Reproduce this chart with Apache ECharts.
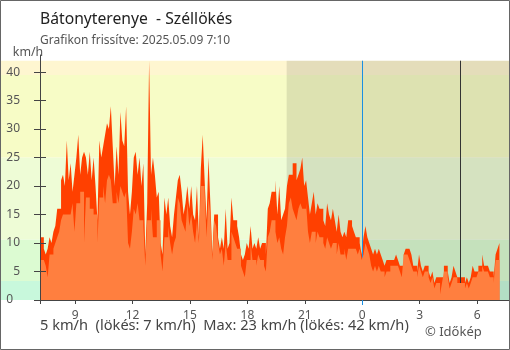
<!DOCTYPE html>
<html><head><meta charset="utf-8">
<script src="https://cdn.jsdelivr.net/npm/echarts@6/dist/echarts.min.js"></script>
<style>html,body{margin:0;padding:0;background:#fff}#c{width:510px;height:350px}</style>
</head><body><div id="c"></div>
<script>
// ---- data ----
const titleText = 'Bátonyterenye  - Széllökés';
const subtitleText = 'Grafikon frissítve: 2025.05.09 7:10';
const unitText = 'km/h';
const footerText = '5 km/h  (lökés: 7 km/h)  Max: 23 km/h (lökés: 42 km/h)';
const creditText = '© Időkép';

const firstSampleHour = 7 + 10 / 60;   // 7:10 previous day
const sampleStepHours = 0.1;           // 6 minutes
const axisMinHour = 7 + 10 / 60;
const axisMaxHour = 31 + 40 / 60;
const midnightHour = 24;
const sunsetHour = 20.05;
const sunriseHour = 29.12;

const xTickHours = [9, 12, 15, 18, 21, 24, 27, 30];
const yTickValues = [0, 5, 10, 15, 20, 25, 30, 35, 40];
const bandLimits = [0, 3.33, 10.6, 25, 39.5, 42];
const bandColors = ['#c8f8dc', '#dcfbd2', '#eefcd6', '#f7fcc6', '#fef6d0'];

const avgValues = [
  7,7,7,6,4,8,8,9,10,11,
  12,14,15,15,15,15,15,17,12,17,
  17,19,19,10,18,18,16,16,15,15,
  10,18,18,20,17,21,22,21,17,17,
  19,17,20,19,18,19,10,9,12,16,
  15,17,14,14,13,6,14,14,16,11,
  11,14,14,8,5,11,11,13,10,8,
  10,11,18,17,14,13,12,17,13,15,
  12,10,14,10,20,20,19,11,18,15,
  7,14,13,10,8,9,6,10,7,7,
  12,11,10,9,9,6,5,4,7,7,
  10,7,7,6,8,7,7,6,5,11,
  12,14,14,12,10,11,9,8,11,13,
  17,18,16,15,14,16,17,16,16,17,
  12,10,12,12,10,12,11,11,10,9,
  11,10,9,10,10,8,10,8,8,9,
  7,9,9,9,9,9,8,9,7,8,
  10,9,8,6,5,6,5,6,5,5,
  4,5,5,6,6,6,6,6,5,4,
  8,8,8,7,6,5,5,4,6,5,
  4,5,5,4,3,4,2,3,3,1,
  3,5,5,4,2,3,4,4,3,3,
  3,3,2,3,2,3,4,4,4,5,
  5,6,5,5,5,4,4,3,7,7,8
];
const gustValues = [
  11,11,9,8,9,11,10,12,13,16,
  16,21,22,20,28,21,24,19,22,25,
  29,22,25,26,25,22,26,21,25,20,
  14,28,25,27,29,31,30,34,27,20,
  27,22,33,28,27,34,19,15,19,25,
  26,22,25,20,24,8,17,42,22,25,
  22,18,19,10,8,18,15,18,13,11,
  15,18,21,22,19,15,17,20,16,20,
  15,14,20,11,23,29,21,14,25,17,
  8,15,15,11,9,11,9,16,9,10,
  18,14,14,13,11,8,7,8,10,9,
  13,9,10,9,11,9,10,10,8,16,
  17,19,19,21,15,20,14,15,16,20,
  22,22,24,24,21,22,23,25,20,21,
  18,15,17,19,15,17,16,16,14,13,
  17,15,14,16,14,12,15,12,11,12,
  11,14,14,13,12,11,11,10,8,11,
  13,11,10,9,8,9,8,9,8,7,
  6,7,7,7,7,7,8,7,6,6,
  8,9,9,9,8,6,6,5,8,6,
  5,6,6,5,4,5,3,4,4,4,
  4,6,6,5,3,4,6,5,4,4,
  4,4,3,4,3,4,6,5,5,6,
  6,8,6,6,6,5,5,4,8,9,10
];

// ---- build ----
const FONT = '"Noto Sans", "Open Sans", sans-serif';
const toPairs = arr => arr.map((v, i) => [firstSampleHour + i * sampleStepHours, v]);
const bandAreas = bandColors.map((c, i) => [
  { yAxis: bandLimits[i], itemStyle: { color: c } },
  { yAxis: bandLimits[i + 1] }
]);
const bandTop = bandLimits[bandLimits.length - 1];
const Y_MAX = 43;

const chart = echarts.init(document.getElementById('c'), null, { renderer: 'canvas' });
chart.setOption({
  animation: false,
  backgroundColor: '#ffffff',
  grid: [
    { left: 40, right: 1, top: 55, bottom: 50 },
    { left: 1, right: 1, top: 55, bottom: 50 }
  ],
  xAxis: [
    {
      type: 'value', gridIndex: 0, min: axisMinHour, max: axisMaxHour, z: 10,
      axisLine: { show: true, lineStyle: { color: '#444', width: 1 } },
      axisTick: { show: true, length: 4, lineStyle: { color: '#444' }, customValues: [axisMinHour].concat(xTickHours) },
      axisLabel: { show: true, margin: 10, color: '#555', fontSize: 12, fontFamily: FONT,
        customValues: xTickHours, formatter: v => String(Math.round(v) % 24) },
      splitLine: { show: false }
    },
    {
      type: 'value', gridIndex: 0, min: axisMinHour, max: axisMaxHour, position: 'bottom', z: 11,
      axisLine: { show: false },
      axisTick: { show: true, length: 5, lineStyle: { color: '#1a8fe3' }, customValues: [midnightHour] },
      axisLabel: { show: false }, splitLine: { show: false }
    },
    { type: 'value', gridIndex: 1, min: 0, max: 1, show: false }
  ],
  yAxis: [
    {
      type: 'value', gridIndex: 0, min: 0, max: Y_MAX, z: 10,
      axisLine: { show: true, lineStyle: { color: '#444', width: 1 } },
      axisTick: { show: true, length: 6, lineStyle: { color: '#444' }, customValues: yTickValues },
      axisLabel: { show: true, margin: 20, color: '#555', fontSize: 12, fontFamily: FONT, customValues: yTickValues,
        formatter: v => (v === 0 ? '{z|0}' : String(v)),
        rich: { z: { color: '#555', fontSize: 12, fontFamily: FONT, padding: [0, 7, 0, 0] } } },
      splitLine: { show: false }
    },
    {
      type: 'value', gridIndex: 0, min: 0, max: Y_MAX, position: 'left', z: 10,
      axisLine: { show: false },
      axisTick: { show: true, inside: true, length: 6, lineStyle: { color: '#444' }, customValues: yTickValues },
      axisLabel: { show: false }, splitLine: { show: false }
    },
    { type: 'value', gridIndex: 1, min: 0, max: Y_MAX, show: false }
  ],
  series: [
    {
      name: 'bands', type: 'line', xAxisIndex: 2, yAxisIndex: 2, z: 0, silent: true,
      data: [[0, -1], [1, -1]], symbol: 'none', lineStyle: { width: 0, opacity: 0 },
      markArea: { silent: true, z: 0, data: bandAreas }
    },
    {
      name: 'lökés', type: 'line', xAxisIndex: 0, yAxisIndex: 0, z: 2, step: 'end',
      data: toPairs(gustValues), symbol: 'none', silent: true,
      lineStyle: { width: 0 }, areaStyle: { color: '#ff4000', opacity: 1 },
      markArea: { silent: true, z: 1, itemStyle: { color: 'rgba(0,0,0,0.1)' },
        data: [[{ xAxis: sunsetHour, yAxis: 0 }, { xAxis: axisMaxHour, yAxis: bandTop }]] },
      markLine: { silent: true, z: 3, symbol: ['none', 'none'], label: { show: false },
        data: [
          [{ xAxis: midnightHour, yAxis: 0, lineStyle: { color: '#1a8fe3', width: 1, type: 'solid' } }, { xAxis: midnightHour, yAxis: bandTop }],
          [{ xAxis: sunriseHour, yAxis: 0, lineStyle: { color: '#333', width: 1, type: 'solid' } }, { xAxis: sunriseHour, yAxis: bandTop }]
        ] }
    },
    {
      name: 'szél', type: 'line', xAxisIndex: 0, yAxisIndex: 0, z: 4, step: 'end',
      data: toPairs(avgValues), symbol: 'none', silent: true,
      lineStyle: { width: 0 }, areaStyle: { color: '#ff7f3f', opacity: 1 }
    }
  ],
  graphic: [
    { type: 'rect', z: 100, shape: { x: 0.5, y: 0.5, width: 509, height: 349 },
      style: { fill: 'none', stroke: '#666', lineWidth: 1 } },
    { type: 'text', x: 40, y: 19.5, z: 100,
      style: { text: titleText, font: '15.7px ' + FONT, fill: '#222', verticalAlign: 'middle', textVerticalAlign: 'middle' } },
    { type: 'text', x: 40, y: 41, z: 100,
      style: { text: subtitleText, font: '12px ' + FONT, fill: '#555', verticalAlign: 'middle', textVerticalAlign: 'middle' } },
    { type: 'text', x: 28, y: 52, z: 100,
      style: { text: unitText, font: '12.4px ' + FONT, fill: '#555', align: 'center', textAlign: 'center', verticalAlign: 'middle', textVerticalAlign: 'middle' } },
    { type: 'text', x: 40, y: 325.8, z: 100,
      style: { text: footerText, font: '14.6px ' + FONT, fill: '#444', verticalAlign: 'middle', textVerticalAlign: 'middle' } },
    { type: 'text', x: 425, y: 332, z: 100,
      style: { text: creditText, font: '13px ' + FONT, fill: '#555', verticalAlign: 'middle', textVerticalAlign: 'middle' } }
  ]
});
</script>
</body></html>
